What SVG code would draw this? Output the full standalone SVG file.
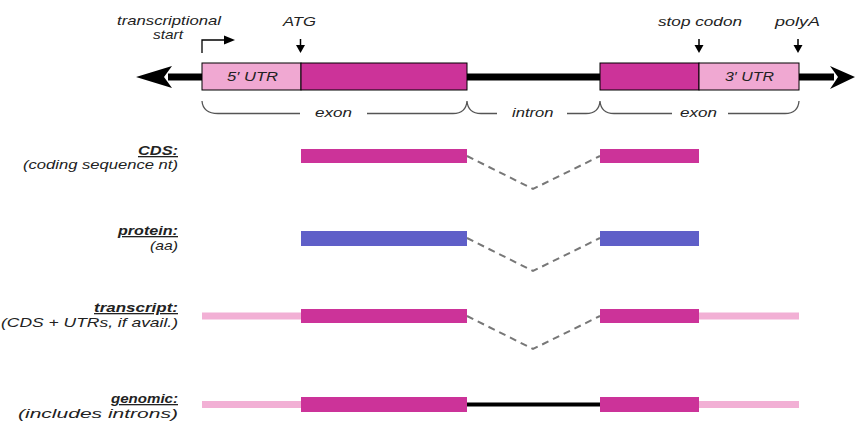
<svg xmlns="http://www.w3.org/2000/svg" width="856" height="423" viewBox="0 0 856 423">
<style>
text{font-family:"Liberation Sans",Arial,sans-serif;font-style:italic;font-size:13px;fill:#222}
.mid{text-anchor:middle}
.end{text-anchor:end}
.hd{font-weight:bold;text-decoration:underline}
.utr{fill:#f0a8d2;stroke:#000;stroke-width:1}
.cdsbox{fill:#cc3399;stroke:#000;stroke-width:1}
.cds{fill:#cc3399}
.prot{fill:#5f5fc8}
.pink{stroke:#f2b0d5;stroke-width:7}
.dash{fill:none;stroke:#777;stroke-width:2;stroke-dasharray:7 5}
.brace{fill:none;stroke:#555;stroke-width:1.3}
.tick{stroke:#000;stroke-width:1.5}
</style>
<rect width="856" height="423" fill="#fff"/>

<g id="gene">
<line x1="168" y1="77" x2="834" y2="77" stroke="#000" stroke-width="7"/>
<path d="M136,77 L172,66 L164,77 L172,88 Z" fill="#000"/>
<path d="M855,77 L830,66 L838,77 L830,89 Z" fill="#000"/>
<rect class="utr" x="202" y="63" width="99" height="27"/>
<rect class="cdsbox" x="301" y="63" width="166" height="27"/>
<rect class="cdsbox" x="600" y="63" width="99" height="27"/>
<rect class="utr" x="699" y="63" width="100" height="27"/>
<text x="227" y="81" textLength="51" lengthAdjust="spacingAndGlyphs">5′ UTR</text>
<text x="725" y="81" textLength="49" lengthAdjust="spacingAndGlyphs">3′ UTR</text>
</g>

<g id="tss">
<text x="117" y="25" textLength="104" lengthAdjust="spacingAndGlyphs">transcriptional</text>
<text x="153" y="39" textLength="30" lengthAdjust="spacingAndGlyphs">start</text>
<path d="M202,53 V40 H224" fill="none" stroke="#000" stroke-width="1.3"/>
<path d="M235,40 L224,35.5 L224,44.5 Z" fill="#000"/>
</g>
<g id="atg">
<text x="283" y="26" textLength="33" lengthAdjust="spacingAndGlyphs">ATG</text>
<path class="tick" d="M300.5,39 V46"/>
<path d="M296,45 L305,45 L300.5,53 Z" fill="#000"/>
</g>
<g id="stop">
<text x="658" y="26" textLength="84" lengthAdjust="spacingAndGlyphs">stop codon</text>
<path class="tick" d="M699,39 V46"/>
<path d="M694.5,45 L703.5,45 L699,53 Z" fill="#000"/>
</g>
<g id="polya">
<text x="775" y="26" textLength="45" lengthAdjust="spacingAndGlyphs">polyA</text>
<path class="tick" d="M798,39 V46"/>
<path d="M793.5,45 L802.5,45 L798,53 Z" fill="#000"/>
</g>

<g id="braces">
<path class="brace" d="M202,101 Q203,113.5 218,113.5 H300 M367,113.5 H453 Q466,113.5 467,101 Q468,113.5 481,113.5 H497 M567,113.5 H586 Q599,113.5 600,101 Q601,113.5 614,113.5 H672 M728,113.5 H785 Q798,113.5 799,101"/>
<text x="315" y="117" textLength="37" lengthAdjust="spacingAndGlyphs">exon</text>
<text x="512" y="117" textLength="41.5" lengthAdjust="spacingAndGlyphs">intron</text>
<text x="680" y="117" textLength="37" lengthAdjust="spacingAndGlyphs">exon</text>
</g>

<g id="lbl-cds">
<text class="hd" x="138" y="155" textLength="40" lengthAdjust="spacingAndGlyphs">CDS:</text>
<text x="23" y="169" textLength="155" lengthAdjust="spacingAndGlyphs">(coding sequence nt)</text>
</g>
<g id="lbl-protein">
<text class="hd" x="118" y="235" textLength="60" lengthAdjust="spacingAndGlyphs">protein:</text>
<text x="150" y="250" textLength="28" lengthAdjust="spacingAndGlyphs">(aa)</text>
</g>
<g id="lbl-transcript">
<text class="hd" x="94" y="312" textLength="84" lengthAdjust="spacingAndGlyphs">transcript:</text>
<text x="1" y="327" textLength="177" lengthAdjust="spacingAndGlyphs">(CDS + UTRs, if avail.)</text>
</g>
<g id="lbl-genomic">
<text class="hd" x="111" y="403" textLength="67" lengthAdjust="spacingAndGlyphs">genomic:</text>
<text x="18" y="418" textLength="160" lengthAdjust="spacingAndGlyphs">(includes introns)</text>
</g>

<g id="connectors">
<polyline class="dash" points="467,156 533,189 600,156"/>
<polyline class="dash" points="467,238 533,271 600,238"/>
<polyline class="dash" points="467,316 533,349 600,316"/>
<line x1="467" y1="404.5" x2="600" y2="404.5" stroke="#000" stroke-width="4"/>
</g>

<g id="row-cds">
<rect class="cds" x="301" y="149" width="166" height="14"/>
<rect class="cds" x="600" y="149" width="99" height="14"/>
</g>
<g id="row-protein">
<rect class="prot" x="301" y="231" width="166" height="15"/>
<rect class="prot" x="600" y="231" width="99" height="15"/>
</g>
<g id="row-transcript">
<line class="pink" x1="202" y1="316" x2="301" y2="316"/>
<line class="pink" x1="699" y1="316" x2="799" y2="316"/>
<rect class="cds" x="301" y="309" width="166" height="14"/>
<rect class="cds" x="600" y="309" width="99" height="14"/>
</g>
<g id="row-genomic">
<line class="pink" x1="202" y1="404.5" x2="301" y2="404.5"/>
<line class="pink" x1="699" y1="404.5" x2="799" y2="404.5"/>
<rect class="cds" x="301" y="397" width="166" height="15"/>
<rect class="cds" x="600" y="397" width="99" height="15"/>
</g>
</svg>
